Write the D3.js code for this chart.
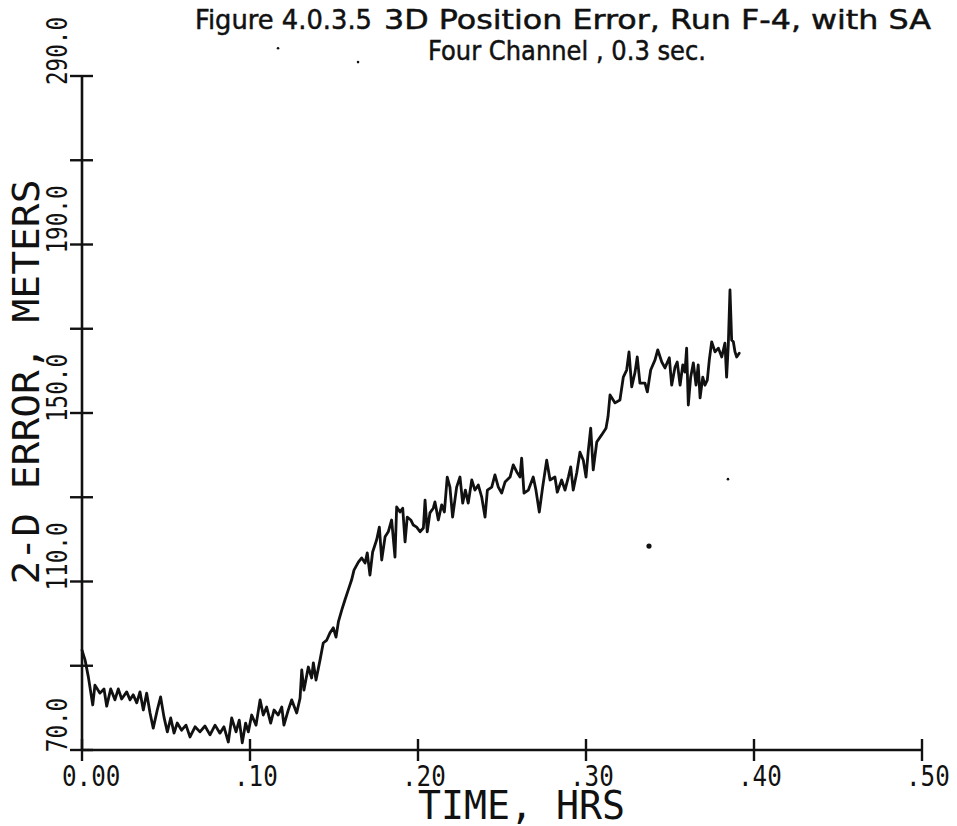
<!DOCTYPE html>
<html>
<head>
<meta charset="utf-8">
<script src="https://cdn.jsdelivr.net/npm/d3@7"></script>
<style>
  html, body { margin: 0; padding: 0; background: #fff; }
  svg { display: block; }
</style>
</head>
<body>
<svg id="chart" width="957" height="826"></svg>
<script>
// Run F-4, four channel receiver, 0.3 s update: error vs. elapsed time
const timeHrs = [
  0.0000, 0.0018, 0.0038, 0.0064, 0.0077, 0.0107, 0.0131, 0.0147, 0.0171, 0.0196,
  0.0216, 0.0236, 0.0266, 0.0286, 0.0305, 0.0326, 0.0345, 0.0365, 0.0385, 0.0405,
  0.0424, 0.0448, 0.0468, 0.0488, 0.0508, 0.0528, 0.0548, 0.0567, 0.0593, 0.0619,
  0.0643, 0.0673, 0.0702, 0.0732, 0.0762, 0.0792, 0.0821, 0.0845, 0.0871, 0.0891,
  0.0917, 0.0936, 0.0954, 0.0974, 0.0990, 0.1010, 0.1036, 0.1060, 0.1079, 0.1099,
  0.1123, 0.1143, 0.1168, 0.1189, 0.1202, 0.1228, 0.1248, 0.1278, 0.1298, 0.1308,
  0.1321, 0.1347, 0.1367, 0.1377, 0.1393, 0.1417, 0.1436, 0.1457, 0.1476, 0.1496,
  0.1512, 0.1526, 0.1546, 0.1565, 0.1585, 0.1605, 0.1619, 0.1645, 0.1665, 0.1685,
  0.1698, 0.1714, 0.1730, 0.1754, 0.1770, 0.1784, 0.1804, 0.1823, 0.1843, 0.1863,
  0.1873, 0.1893, 0.1909, 0.1923, 0.1936, 0.1957, 0.1972, 0.1992, 0.2012, 0.2032,
  0.2042, 0.2055, 0.2071, 0.2091, 0.2101, 0.2121, 0.2141, 0.2157, 0.2174, 0.2190,
  0.2206, 0.2230, 0.2250, 0.2266, 0.2282, 0.2299, 0.2320, 0.2339, 0.2359, 0.2379,
  0.2399, 0.2413, 0.2439, 0.2458, 0.2478, 0.2498, 0.2518, 0.2548, 0.2567, 0.2588,
  0.2607, 0.2617, 0.2631, 0.2657, 0.2686, 0.2702, 0.2722, 0.2742, 0.2766, 0.2786,
  0.2815, 0.2829, 0.2855, 0.2875, 0.2895, 0.2909, 0.2924, 0.2945, 0.2964, 0.2984,
  0.3000, 0.3014, 0.3028, 0.3043, 0.3064, 0.3093, 0.3119, 0.3131, 0.3143, 0.3173,
  0.3202, 0.3222, 0.3242, 0.3256, 0.3272, 0.3292, 0.3305, 0.3321, 0.3351, 0.3365,
  0.3385, 0.3411, 0.3427, 0.3451, 0.3470, 0.3496, 0.3510, 0.3530, 0.3543, 0.3560,
  0.3576, 0.3589, 0.3599, 0.3609, 0.3623, 0.3639, 0.3655, 0.3668, 0.3679, 0.3695,
  0.3708, 0.3722, 0.3734, 0.3748, 0.3768, 0.3788, 0.3808, 0.3827, 0.3837, 0.3847,
  0.3857, 0.3867, 0.3877, 0.3887, 0.3897, 0.3912
];

const errorMeters = [
   93.7,  91.4,  87.3,  80.7,  85.4,  83.5,  84.5,  80.4,  84.5,  81.9,
   84.5,  82.1,  83.8,  81.9,  83.1,  81.2,  83.8,  79.5,  83.5,  78.8,
   75.2,  79.5,  82.6,  77.8,  74.3,  77.6,  74.0,  76.4,  74.7,  75.9,
   73.1,  75.5,  74.3,  75.7,  73.6,  75.9,  74.0,  75.5,  71.9,  77.6,
   74.3,  77.1,  71.7,  76.4,  74.3,  78.3,  75.9,  81.9,  78.3,  80.2,
   76.4,  79.5,  78.3,  80.2,  75.9,  79.5,  81.9,  78.8,  82.3,  89.0,
   84.2,  89.7,  87.1,  90.7,  86.6,  91.4,  95.4,  96.1,  97.8,  99.0,
   96.8, 100.4, 103.2, 105.6, 108.0, 110.4, 112.7, 114.6, 115.6, 114.4,
  116.8, 111.5, 117.0, 119.9, 122.9, 115.1, 120.6, 121.8, 124.6, 115.8,
  127.7, 126.5, 127.4, 119.4, 125.3, 124.6, 123.4, 122.9, 121.8, 122.7,
  129.3, 121.8, 126.3, 127.4, 128.9, 124.6, 128.2, 126.5, 134.8, 132.4,
  125.3, 132.4, 134.8, 128.6, 131.7, 128.6, 134.1, 131.7, 132.9, 130.1,
  125.3, 131.7, 132.4, 135.3, 132.4, 131.0, 133.6, 134.8, 137.7, 136.0,
  134.8, 139.3, 131.0, 131.7, 134.8, 131.7, 126.5, 132.4, 138.8, 134.1,
  134.8, 131.2, 134.1, 131.7, 134.8, 137.2, 131.7, 135.8, 140.7, 138.8,
  134.8, 141.2, 146.4, 136.5, 143.1, 144.8, 146.4, 149.1, 154.3, 152.4,
  153.1, 158.5, 160.2, 164.5, 156.2, 159.7, 163.3, 157.1, 157.1, 155.0,
  160.2, 162.6, 165.0, 162.1, 160.7, 163.1, 156.6, 160.9, 162.1, 156.6,
  161.4, 159.7, 165.4, 151.9, 158.5, 161.9, 156.6, 161.4, 153.6, 158.5,
  156.6, 157.8, 162.6, 166.9, 164.5, 165.4, 163.3, 166.6, 158.5, 166.1,
  179.2, 167.3, 166.9, 164.5, 163.3, 164.2
];

const xTicks = [0, 0.1, 0.2, 0.3, 0.4, 0.5];
const xTickLabels = ["0.00", ".10", ".20", ".30", ".40", ".50"];
const yTicks = [70, 90, 110, 130, 150, 170, 190, 210, 230];
const yLabelValues = [70, 110, 150, 190, 230];
const yTickLabels = ["70.0", "110.0", "150.0", "190.0", "290.0"];
const titleLines = [
  "Figure 4.0.3.5",
  "3D Position Error, Run F-4, with SA",
  "Four Channel , 0.3 sec."
];
const xTitle = "TIME, HRS";
const yTitle = "2-D ERROR, METERS";
// loose specks on the sheet, in axis units [hrs, meters]
const specks = [[0.1167, 236.6], [0.1643, 233.3], [0.3375, 118.4], [0.3845, 134.3]];

const svg = d3.select("#chart");
svg.append("rect").attr("width", 957).attr("height", 826).attr("fill", "#fff");

const x = d3.scaleLinear().domain([0, 0.5]).range([82, 922]);
const y = d3.scaleLinear().domain([70, 230]).range([750, 76]);

const ink = "#111";
const plotFont = "'DejaVu Sans Mono', monospace";

// axis lines
svg.append("line")
  .attr("x1", x(0)).attr("x2", x(0.5)).attr("y1", y(70)).attr("y2", y(70))
  .attr("stroke", ink).attr("stroke-width", 2.6);
svg.append("line")
  .attr("x1", x(0)).attr("x2", x(0)).attr("y1", y(70)).attr("y2", y(230))
  .attr("stroke", ink).attr("stroke-width", 2.6);

// ticks crossing the axes
svg.append("g").selectAll("line").data(xTicks).join("line")
  .attr("x1", d => x(d)).attr("x2", d => x(d))
  .attr("y1", y(70) - 11).attr("y2", y(70) + 11)
  .attr("stroke", ink).attr("stroke-width", 2.4);
svg.append("g").selectAll("line").data(yTicks).join("line")
  .attr("x1", x(0) - 12).attr("x2", x(0) + 11)
  .attr("y1", d => y(d)).attr("y2", d => y(d))
  .attr("stroke", ink).attr("stroke-width", 2.4);

// x tick labels
svg.append("g").selectAll("text").data(xTicks).join("text")
  .attr("x", (d, i) => x(d) - 16 - (xTickLabels[i].length - 3) * 4)
  .attr("y", 786)
  .attr("font-family", plotFont).attr("font-size", 29)
  .attr("fill", ink)
  .attr("textLength", (d, i) => xTickLabels[i].length * 14.6)
  .attr("lengthAdjust", "spacingAndGlyphs")
  .text((d, i) => xTickLabels[i]);

// y tick labels, rotated
svg.append("g").selectAll("text").data(yLabelValues).join("text")
  .attr("transform", d => `translate(67,${y(d) - 25}) rotate(-90)`)
  .attr("text-anchor", "middle")
  .attr("font-family", plotFont).attr("font-size", 28)
  .attr("fill", ink)
  .attr("textLength", (d, i) => yTickLabels[i].length * 13.6)
  .attr("lengthAdjust", "spacingAndGlyphs")
  .text((d, i) => yTickLabels[i]);

// axis titles
svg.append("text")
  .attr("x", 418).attr("y", 819)
  .attr("font-family", plotFont).attr("font-size", 39)
  .attr("fill", ink)
  .attr("textLength", 207).attr("lengthAdjust", "spacingAndGlyphs")
  .text(xTitle);
svg.append("text")
  .attr("transform", "translate(39,382) rotate(-90)")
  .attr("text-anchor", "middle")
  .attr("font-family", plotFont).attr("font-size", 37)
  .attr("fill", ink)
  .attr("textLength", 405).attr("lengthAdjust", "spacingAndGlyphs")
  .text(yTitle);

// heading
const headFont = "'DejaVu Sans', sans-serif";
const heading = [
  { text: titleLines[0], x: 195, y: 29, w: 177 },
  { text: titleLines[1], x: 384, y: 29, w: 547 },
  { text: titleLines[2], x: 428, y: 60, w: 278 }
];
svg.append("g").selectAll("text").data(heading).join("text")
  .attr("x", d => d.x).attr("y", d => d.y)
  .attr("font-family", headFont).attr("font-size", 27)
  .attr("fill", ink)
  .attr("stroke", ink).attr("stroke-width", 0.5)
  .attr("textLength", d => d.w).attr("lengthAdjust", "spacingAndGlyphs")
  .text(d => d.text);

// error trace
const pts = timeHrs.map((t, i) => [t, errorMeters[i]]);
svg.append("path")
  .datum(pts)
  .attr("fill", "none")
  .attr("stroke", ink)
  .attr("stroke-width", 2.8)
  .attr("stroke-linejoin", "round")
  .attr("stroke-linecap", "round")
  .attr("d", d3.line().x(d => x(d[0])).y(d => y(d[1])));

// specks
svg.append("g").selectAll("circle").data(specks).join("circle")
  .attr("cx", d => x(d[0])).attr("cy", d => y(d[1]))
  .attr("r", (d, i) => i === 2 ? 2.6 : 1.3)
  .attr("fill", ink);
</script>
</body>
</html>
